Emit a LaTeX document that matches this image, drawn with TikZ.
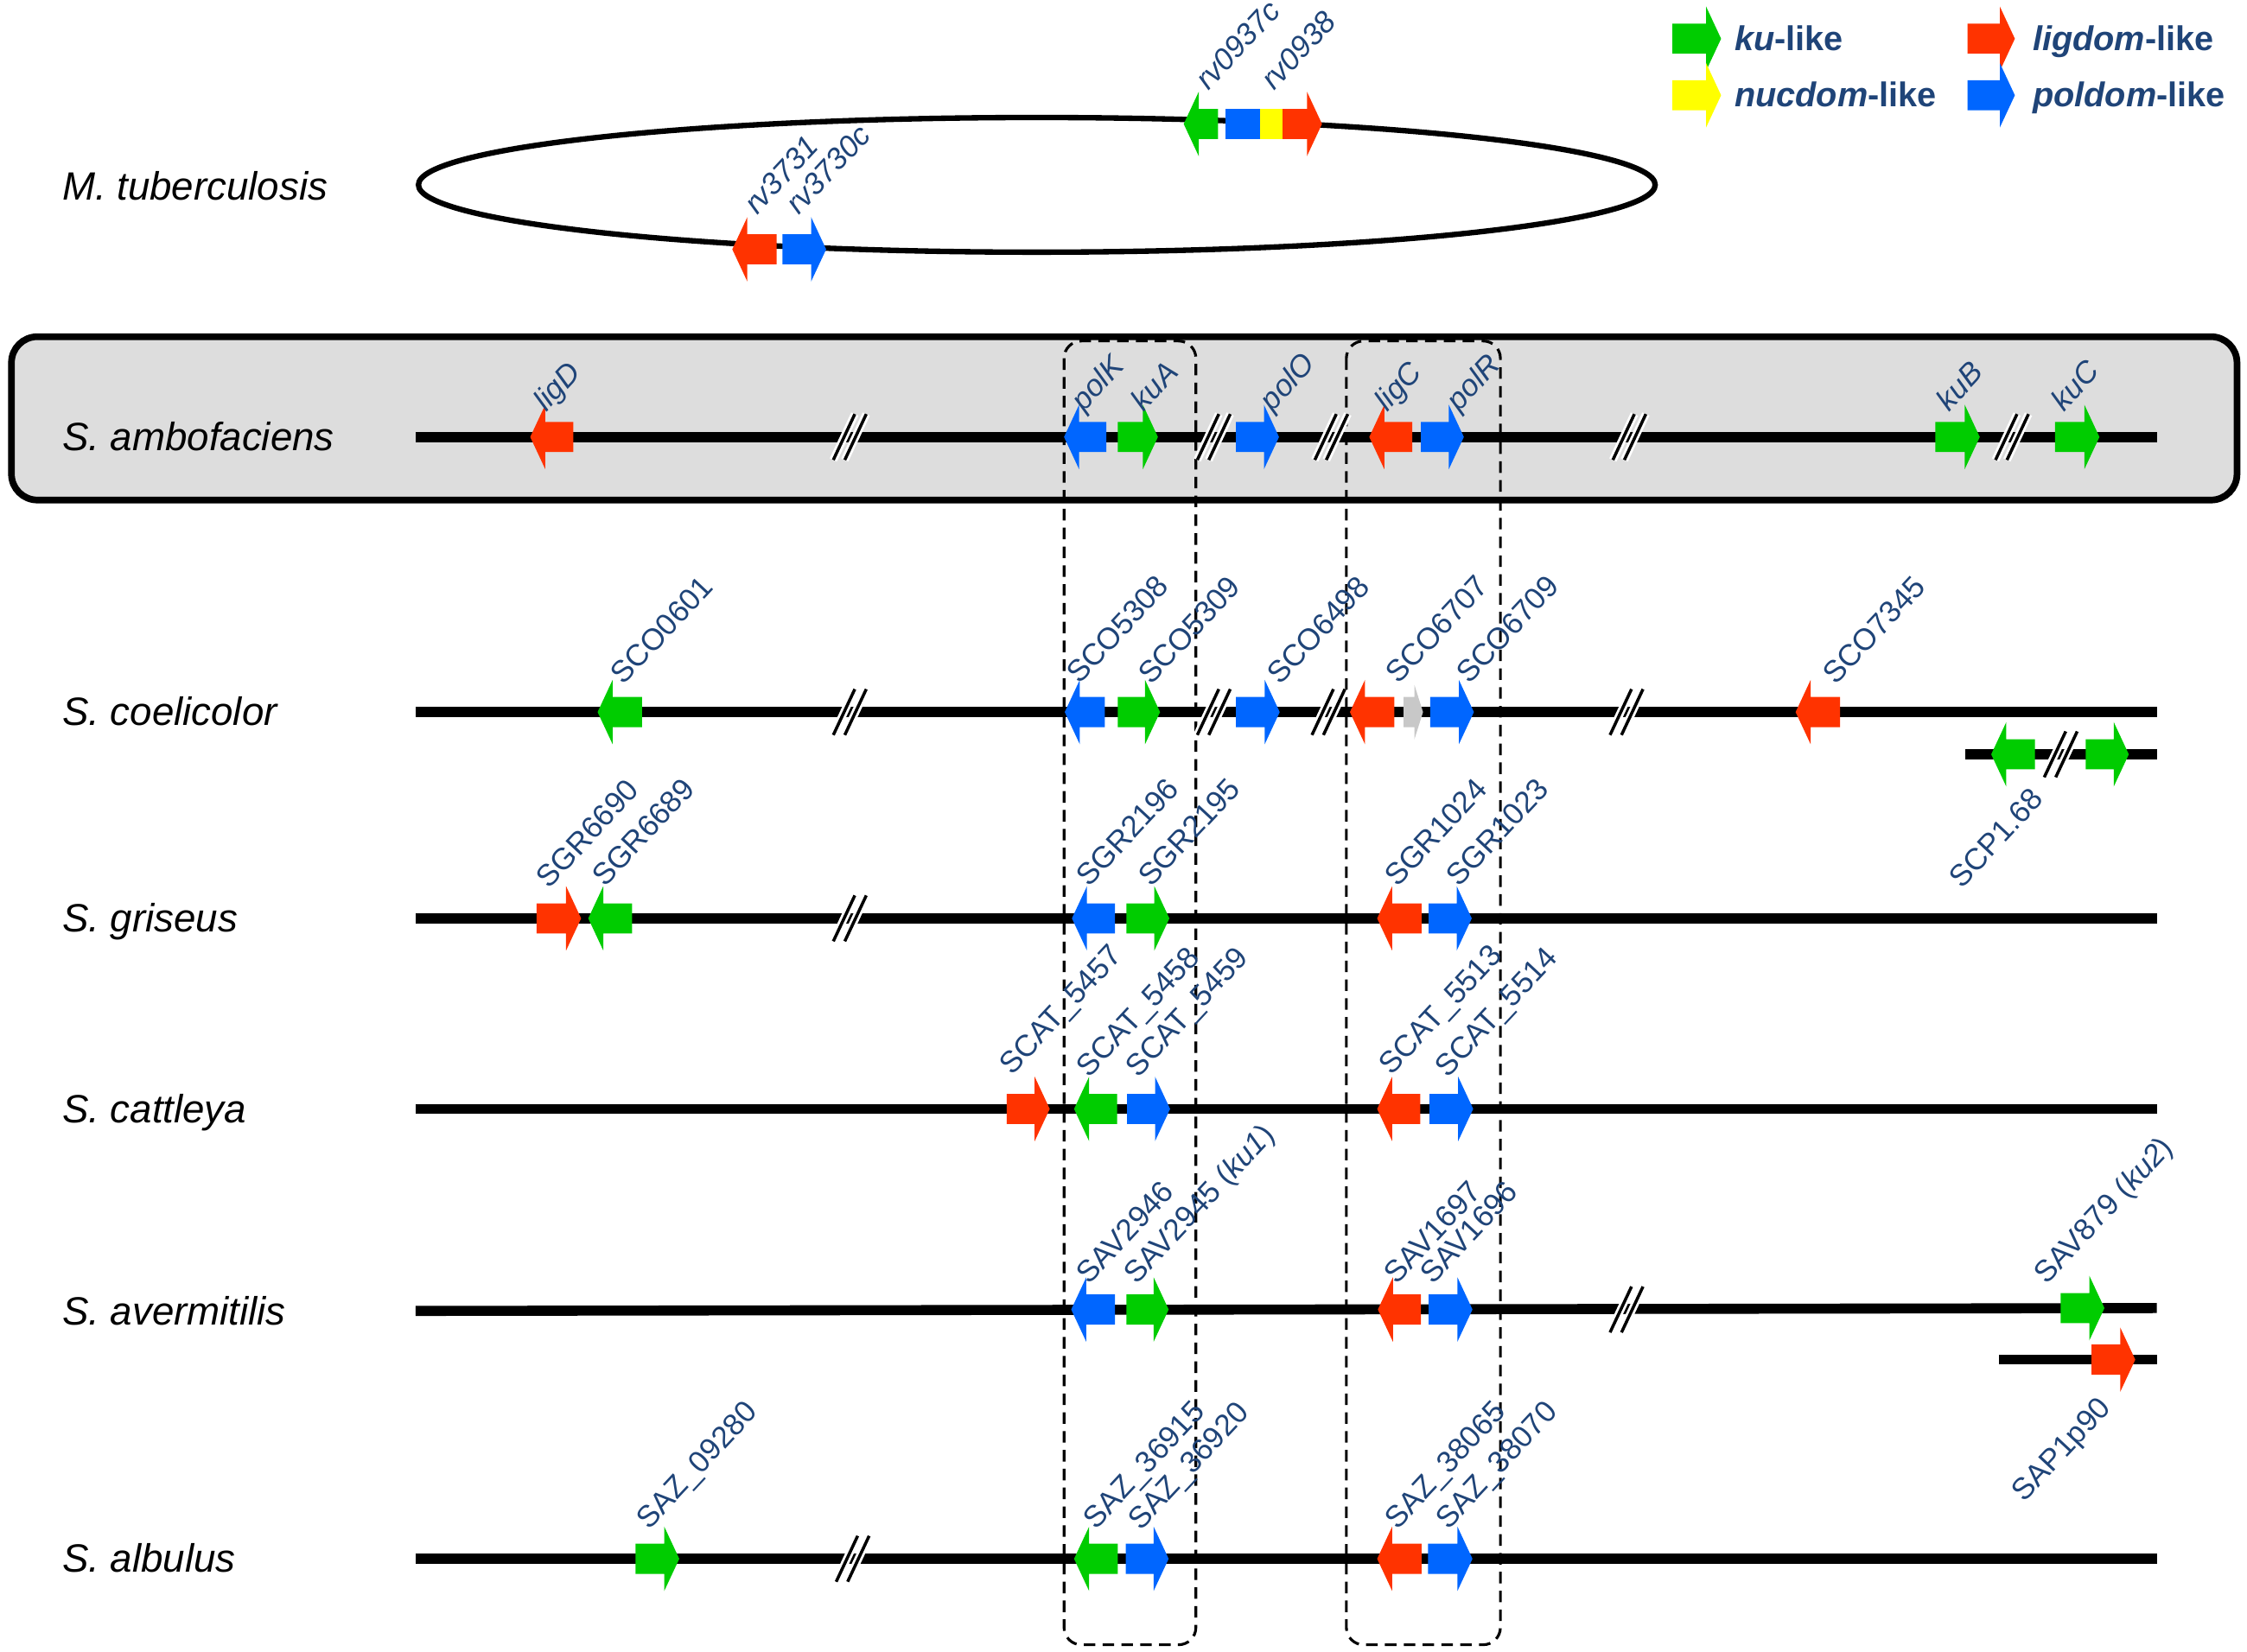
\documentclass[tikz,border=0pt]{standalone}
\usepackage{fontspec}
\setmainfont{Liberation Sans}
\usepackage{xcolor}
\usepackage{tikz}

\definecolor{kugreen}{RGB}{0,204,0}
\definecolor{ligred}{RGB}{255,51,0}
\definecolor{polblue}{RGB}{0,102,255}
\definecolor{nucyellow}{RGB}{255,255,0}
\definecolor{orfgray}{RGB}{200,200,200}
\definecolor{labelblue}{RGB}{31,68,120}
\definecolor{boxgray}{RGB}{221,221,221}

% gene arrow: tail x, tip x, y, colour
\newcommand{\gene}[4]{%
  \pgfmathsetmacro{\headx}{#2 - 10.5*sign(#2 - #1)}%
  \fill [#4] (#1, #3 - 10.5) -- (\headx, #3 - 10.5) -- (\headx, #3 - 22.5) -- (#2, #3) -- (\headx, #3 + 22.5) -- (\headx, #3 + 10.5) -- (#1, #3 + 10.5) -- cycle;}
% break mark on a chromosome line
\newcommand{\brk}[2]{%
  \draw [white, line width = 2.6pt] (#1 - 11.5, #2 + 16) -- (#1 + 3.5, #2 - 16) (#1 - 3.5, #2 + 16) -- (#1 + 11.5, #2 - 16);
  \draw [line width = 1pt] (#1 - 11.5, #2 + 16) -- (#1 + 3.5, #2 - 16) (#1 - 3.5, #2 + 16) -- (#1 + 11.5, #2 - 16);}

\tikzset{
  chromo/.style = {line width = 3.3pt},
  genelabel/.style = {labelblue, font = \fontsize{10}{12}\selectfont, rotate = 47, anchor = base west, inner sep = 0pt},
  genelabelit/.style = {genelabel, font = \fontsize{10}{12}\selectfont\itshape},
  species/.style = {font = \fontsize{13}{15}\selectfont\itshape, anchor = base west, inner sep = 0pt},
  legendtext/.style = {labelblue, font = \fontsize{11.3}{13}\selectfont\bfseries, anchor = base west, inner sep = 0pt},
  cluster/.style = {dash pattern = on 3.8pt off 2.4pt, line width = 0.9pt, rounded corners = 2mm}
}

\begin{document}
\begin{tikzpicture}[x = 0.016582cm, y = -0.016582cm]
    \useasboundingbox (0, 0) rectangle (1568, 1153);

    % legend
    \gene{1167}{1201}{27}{kugreen}
    \gene{1167}{1201}{66.5}{nucyellow}
    \gene{1373}{1406}{27}{ligred}
    \gene{1373}{1406}{66.5}{polblue}
    \node (kulike) at (1210, 35) [legendtext] {\textit{ku}-like};
    \node (nuclike) at (1210, 74.5) [legendtext] {\textit{nucdom}-like};
    \node (liglike) at (1418, 35) [legendtext] {\textit{ligdom}-like};
    \node (pollike) at (1418, 74.5) [legendtext] {\textit{poldom}-like};

    % ambofaciens box and conserved clusters
    \draw [fill = boxgray, line width = 2.2pt, rounded corners = 3mm] (8, 235) rectangle (1561, 349);
    \draw [cluster] (742.5, 238) rectangle (834.5, 1148);
    \draw [cluster] (939.5, 238) rectangle (1047, 1148);

    % species
    \node (mtb) at (43, 139.5) [species] {M. tuberculosis};
    \node (samb) at (43, 314.5) [species] {S. ambofaciens};
    \node (scoe) at (43, 506.5) [species] {S. coelicolor};
    \node (sgri) at (43, 650.5) [species] {S. griseus};
    \node (scat) at (43, 783.5) [species] {S. cattleya};
    \node (save) at (43, 924.5) [species] {S. avermitilis};
    \node (salb) at (43, 1097.5) [species] {S. albulus};

    % M. tuberculosis
    \draw [line width = 1.8pt] (723.5, 129) ellipse [x radius = 431.5, y radius = 47];
    \gene{850}{826}{86.5}{kugreen}
    \fill [polblue] (855, 76) rectangle (879, 97);
    \fill [nucyellow] (879, 76) rectangle (895.5, 97);
    \gene{895}{922.5}{86.5}{ligred}
    \gene{542}{511}{174}{ligred}
    \gene{546}{576.5}{174}{polblue}
    \node (rv0937c) at (843, 64) [genelabelit] {rv0937c};
    \node (rv0938) at (889, 64) [genelabelit] {rv0938};
    \node (rv3731) at (528, 151) [genelabelit] {rv3731};
    \node (rv3730c) at (557, 151) [genelabelit] {rv3730c};

    % S. ambofaciens
    \draw [chromo] (290, 305) -- (1505, 305);
    \brk{593}{305} \brk{847}{305} \brk{929}{305} \brk{1137}{305} \brk{1404}{305}
    \gene{400}{370}{305}{ligred}
    \gene{772}{742.5}{305}{polblue}
    \gene{780}{808}{305}{kugreen}
    \gene{862.5}{892.5}{305}{polblue}
    \gene{985.5}{955.5}{305}{ligred}
    \gene{991.5}{1021.5}{305}{polblue}
    \gene{1350.5}{1381.5}{305}{kugreen}
    \gene{1434}{1465}{305}{kugreen}
    \node (ligD) at (381, 288) [genelabelit] {ligD};
    \node (polK) at (756, 288) [genelabelit] {polK};
    \node (kuA) at (798, 288) [genelabelit] {kuA};
    \node (polO) at (888, 288) [genelabelit] {polO};
    \node (ligC) at (968, 288) [genelabelit] {ligC};
    \node (polR) at (1018, 288) [genelabelit] {polR};
    \node (kuB) at (1360, 288) [genelabelit] {kuB};
    \node (kuC) at (1440, 288) [genelabelit] {kuC};

    % S. coelicolor
    \draw [chromo] (290, 497) -- (1505, 497);
    \draw [chromo] (1371.5, 526.5) -- (1505, 526.5);
    \brk{593}{497} \brk{847}{497} \brk{927}{497} \brk{1135}{497} \brk{1438}{526.5}
    \gene{448}{417}{497}{kugreen}
    \gene{771}{743}{497}{polblue}
    \gene{780}{809.5}{497}{kugreen}
    \gene{862.5}{893}{497}{polblue}
    \gene{973}{942}{497}{ligred}
    \fill [orfgray] (979.5, 486.5) -- (987, 486.5) -- (987, 478) -- (993, 497) -- (987, 516) -- (987, 507.5) -- (979.5, 507.5) -- cycle;
    \gene{998}{1028.5}{497}{polblue}
    \gene{1284}{1253}{497}{ligred}
    \gene{1420}{1389.5}{526.5}{kugreen}
    \gene{1455.5}{1485.5}{526.5}{kugreen}
    \node (sco0601) at (435, 479) [genelabel] {SCO0601};
    \node (sco5308) at (753, 478.5) [genelabel] {SCO5308};
    \node (sco5309) at (803, 479) [genelabel] {SCO5309};
    \node (sco6498) at (893, 479) [genelabel] {SCO6498};
    \node (sco6707) at (976, 478.5) [genelabel] {SCO6707};
    \node (sco6709) at (1025, 478.5) [genelabel] {SCO6709};
    \node (sco7345) at (1281, 479) [genelabel] {SCO7345};
    \node (scp168) at (1416, 548) [genelabel, anchor = north east] {SCP1.68};

    % S. griseus
    \draw [chromo] (290, 641) -- (1505, 641);
    \brk{593}{641}
    \gene{374.5}{405.5}{641}{ligred}
    \gene{441}{410.5}{641}{kugreen}
    \gene{778}{748}{641}{polblue}
    \gene{786}{816}{641}{kugreen}
    \gene{992}{961}{641}{ligred}
    \gene{997}{1027}{641}{polblue}
    \node (sgr6690) at (383, 621) [genelabel] {SGR6690};
    \node (sgr6689) at (422, 620) [genelabel] {SGR6689};
    \node (sgr2196) at (760, 620) [genelabel] {SGR2196};
    \node (sgr2195) at (803, 620) [genelabel] {SGR2195};
    \node (sgr1024) at (975, 620) [genelabel] {SGR1024};
    \node (sgr1023) at (1018, 620) [genelabel] {SGR1023};

    % S. cattleya
    \draw [chromo] (290, 774) -- (1505, 774);
    \gene{702.5}{732.5}{774}{ligred}
    \gene{779.5}{749.5}{774}{kugreen}
    \gene{786.5}{816.5}{774}{polblue}
    \gene{991}{961}{774}{ligred}
    \gene{997.5}{1028}{774}{polblue}
    \node (scat5457) at (706, 751.5) [genelabel] {SCAT\_5457};
    \node (scat5458) at (760, 753) [genelabel] {SCAT\_5458};
    \node (scat5459) at (794, 753) [genelabel] {SCAT\_5459};
    \node (scat5513) at (971, 751.5) [genelabel] {SCAT\_5513};
    \node (scat5514) at (1010, 753) [genelabel] {SCAT\_5514};

    % S. avermitilis
    \draw [chromo] (290, 915) -- (1505, 913);
    \draw [chromo] (1395, 949) -- (1505, 949);
    \brk{1135}{914}
    \gene{778}{747.5}{914}{polblue}
    \gene{786}{815.5}{914}{kugreen}
    \gene{991.5}{961.5}{914}{ligred}
    \gene{997}{1027.5}{914}{polblue}
    \gene{1438}{1468.5}{913}{kugreen}
    \gene{1459.5}{1490}{949}{ligred}
    \node (sav2946) at (760, 897.5) [genelabel] {SAV2946};
    \node (sav2945) at (793, 897.5) [genelabel] {SAV2945 (\textit{ku1})};
    \node (sav1697) at (974.5, 897.5) [genelabel] {SAV1697};
    \node (sav1696) at (1000, 897.5) [genelabel] {SAV1696};
    \node (sav879) at (1428, 897.5) [genelabel] {SAV879 (\textit{ku2})};
    \node (sap1p90) at (1463, 973) [genelabel, anchor = north east] {SAP1p90};

    % S. albulus
    \draw [chromo] (290, 1088) -- (1505, 1088);
    \brk{595}{1088}
    \gene{443.5}{474}{1088}{kugreen}
    \gene{780}{749.5}{1088}{kugreen}
    \gene{785.5}{815.5}{1088}{polblue}
    \gene{992}{961}{1088}{ligred}
    \gene{996.5}{1027.5}{1088}{polblue}
    \node (saz09280) at (453, 1068.5) [genelabel] {SAZ\_09280};
    \node (saz36915) at (765, 1068.5) [genelabel] {SAZ\_36915};
    \node (saz36920) at (796, 1069) [genelabel] {SAZ\_36920};
    \node (saz38065) at (975, 1068.5) [genelabel] {SAZ\_38065};
    \node (saz38070) at (1011, 1068.5) [genelabel] {SAZ\_38070};
\end{tikzpicture}
\end{document}
